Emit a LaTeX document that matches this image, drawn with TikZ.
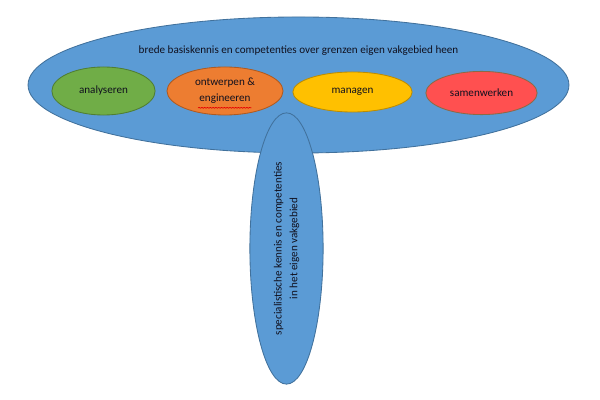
\documentclass[tikz,border=0pt]{standalone}
\usepackage{fontspec}
\setmainfont{Carlito}
\usetikzlibrary{shapes.geometric,decorations.pathmorphing}
\definecolor{vakblauw}{HTML}{5B9BD5}
\definecolor{vakblauwrand}{HTML}{41719C}
\definecolor{groen}{HTML}{70AD47}
\definecolor{groenrand}{HTML}{507E32}
\definecolor{oranje}{HTML}{ED7D31}
\definecolor{oranjerand}{HTML}{AE5A21}
\definecolor{geel}{HTML}{FFC000}
\definecolor{geelrand}{HTML}{BC8C00}
\definecolor{rood}{HTML}{FF5050}
\definecolor{roodrand}{HTML}{8C6A46}
\definecolor{tekst}{HTML}{10101E}
\tikzset{
  ovaal/.style={ellipse,draw=#1rand,fill=#1,line width=0.6pt,inner sep=0pt,
    text=tekst,align=center,font=\fontsize{7.9}{11.2}\selectfont},
}
\begin{document}
\begin{tikzpicture}[x=0.025cm,y=-0.025cm,line join=round,line cap=round]
\useasboundingbox (0,0) rectangle (600,400);
\node[ovaal=vakblauw,minimum width=13.52cm,minimum height=3.4cm] (breed) at (298.5,85) {};
\node[text=tekst,font=\fontsize{7.9}{11}\selectfont] (titel) at (298.5,51) {brede basiskennis en competenties over grenzen eigen vakgebied heen};
\foreach \n/\x/\y/\c/\w/\h/\t in {
  ana/103.5/91/groen/2.58/1.2/analyseren,
  ont/225/91/oranje/2.9/1.2/{ontwerpen \&\\engineeren},
  man/352.5/92/geel/2.98/1.0/managen,
  sam/481.5/93/rood/2.78/1.08/samenwerken}
  \node[ovaal=\c,minimum width=\w cm,minimum height=\h cm] (\n) at (\x,\y) {\t};
\draw[red!90!black,line width=0.5pt,decorate,decoration={snake,amplitude=0.3pt,segment length=2pt}]
  ([xshift=-0.67cm,yshift=-0.42cm]ont.center) -- ++(53,0);
\node[ovaal=vakblauw,rotate=90,minimum width=6.78cm,minimum height=1.83cm] (diep) at (286.5,248.5)
  {specialistische kennis en competenties\\in het eigen vakgebied};
\end{tikzpicture}
\end{document}
